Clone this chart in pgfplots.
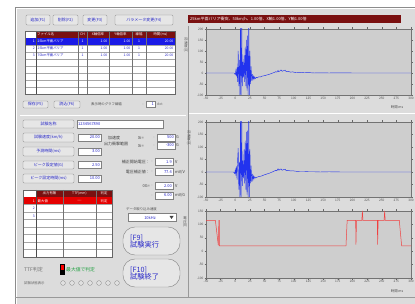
\documentclass[border=0pt]{standalone}
\usepackage{fontspec}
\setmainfont{Noto Sans CJK JP}
\usepackage{pgfplots}
\pgfplotsset{compat=1.18}
\definecolor{winbg}{HTML}{DCDCDC}
\definecolor{plotbg}{HTML}{CECECE}
\definecolor{darkred}{HTML}{7A1010}
\definecolor{selblue}{HTML}{1A1AE6}
\definecolor{txtblue}{HTML}{2828C8}
\definecolor{btnbg}{HTML}{E6E6E6}
\definecolor{btnedge}{HTML}{8C8C8C}
\definecolor{sigblue}{HTML}{2233EE}
\definecolor{sigred}{HTML}{F04040}
\definecolor{okgreen}{HTML}{20A040}
\newcommand{\ft}{\fontsize{4}{4.5}\selectfont}
\newcommand{\fs}{\fontsize{3.4}{3.8}\selectfont}
\newcommand{\btn}[5]{%
  \draw[btnedge, fill=btnbg, rounded corners=1.2pt, line width=0.35pt] (#1,#2) rectangle (#3,#4);
  \node[inner sep=0pt, font=\ft, text=txtblue] at ({(#1+#3)/2},{(#2+#4)/2}) {#5};}
\newcommand{\fld}[5]{%
  \draw[black!50, fill=white, line width=0.3pt] (#1,#2) rectangle (#3,#4);
  \node[anchor=east, inner sep=0pt, font=\ft, text=txtblue] at ({#3-1},{(#2+#4)/2}) {#5};}
\newcommand{\spin}[5]{%
  \fld{#1}{#2}{#3}{#4}{#5}%
  \node[inner sep=0pt, font=\fs, text=black!60] at ({#1-3},{(#2+#4)/2}) {:};}
\pgfplotsset{chart/.style={scale only axis, width=205pt, xmin=-50, xmax=300,
  xtick={-50,-25,...,300}, axis background/.style={fill=plotbg},
  axis line style={draw=black!55, line width=0.35pt},
  tick style={draw=black!60, line width=0.3pt}, tick align=outside, major tick length=1.5pt,
  ticklabel style={font=\fontsize{3.2}{3.5}\selectfont, text=black!70, inner sep=0.8pt},
  /pgf/number format/assume math mode=true, anchor=north west, clip=true}}
\begin{document}
\begin{tikzpicture}
\useasboundingbox (0pt,-304pt) rectangle (415pt,0pt);
\begin{scope}[x=1pt,y=-1pt]
\fill[white] (0,0) rectangle (415,304);
\fill[winbg] (15,7) rectangle (415,304);
\draw[black!45, line width=0.4pt] (15,304) -- (15,7) -- (415,7);
\draw[white, line width=0.4pt] (16,304) -- (16,8) -- (415,8);
% top buttons
\btn{26}{15}{50}{25}{追加(F1)}
\btn{53}{15}{78}{25}{削除(F2)}
\btn{83}{15}{107}{25}{変更(F3)}
\btn{115}{15}{173}{25}{パラメータ変更(F4)}
% table 1
\fill[white] (25,31) rectangle (175,94);
\fill[darkred] (36,31) rectangle (175,38);
\fill[selblue] (25,38) rectangle (175,45);
\foreach \yy in {52,59,66,73,80,87} \draw[black!35, line width=0.3pt] (25,\yy) -- (175,\yy);
\draw[black!35, line width=0.3pt] (25,45) -- (175,45);
\foreach \xx in {78,87,109,132,146} \draw[black!55, line width=0.3pt] (\xx,31) -- (\xx,94);
\draw[black!70, line width=0.5pt] (36,31) -- (36,94);
\draw[black!60, line width=0.4pt] (25,31) rectangle (175,94);
\begin{scope}[every node/.style={inner sep=0pt, font=\fs}]
\node[text=white, anchor=west] at (37,34.5) {ファイル名};
\node[text=white] at (82.5,34.5) {CH};
\node[text=white] at (98,34.5) {X軸倍率};
\node[text=white] at (120.5,34.5) {Y軸倍率};
\node[text=white] at (139,34.5) {線幅};
\node[text=white] at (160.5,34.5) {時間(ms)};
\end{scope}
\begin{scope}[every node/.style={inner sep=0pt, font=\fs}]
\foreach \r/\yy/\nm/\cc in {1/41.5/25km平面バリア/white, 2/48.5/25km平面バリア/txtblue, 3/55.5/70km平面バリア/txtblue}{
  \node[text=\cc, anchor=east] at (35,\yy) {\r};
  \node[text=\cc, anchor=west] at (37.5,\yy) {\nm};
  \node[text=\cc] at (82.5,\yy) {1};
  \node[text=\cc, anchor=east] at (107.5,\yy) {1.00};
  \node[text=\cc, anchor=east] at (130.5,\yy) {1.00};
  \node[text=\cc] at (139,\yy) {1};
  \node[text=\cc, anchor=east] at (173.5,\yy) {20.00};
}
\end{scope}
% buttons under table
\btn{23}{101}{48}{108}{保存(F5)}
\btn{54}{101}{80}{108}{読込(F6)}
\node[inner sep=0pt, font=\fs, text=black!70, anchor=west] at (91,104.5) {表示時のグラフ線幅};
\spin{146}{101.5}{155}{107.5}{1}
\node[inner sep=0pt, font=\fs, text=black!60, anchor=west] at (157,104.5) {dot};
% separator
\draw[black!40, line width=0.4pt] (20,115) -- (186,115);
\draw[white, line width=0.4pt] (20,115.6) -- (186,115.6);
% parameter buttons & fields
\btn{23}{120}{74}{128}{試験名称}
\draw[black!50, fill=white, line width=0.3pt] (77,120) rectangle (163,128);
\node[anchor=west, inner sep=0pt, font=\ft, text=txtblue] at (78,124) {1234567890};
\btn{23}{133}{74}{142}{試験速度(km/h)}
\fld{78}{134}{101}{141}{20.00}
\btn{23}{147}{74}{156}{予測時間(ms)}
\fld{78}{148}{101}{155}{3.00}
\btn{23}{161}{74}{169}{ピーク設定値(G)}
\fld{78}{161.5}{101}{168.5}{2.50}
\btn{23}{174}{74}{183}{ピーク設定時間(ms)}
\fld{78}{175}{101}{182}{10.00}
% middle labels
\begin{scope}[every node/.style={inner sep=0pt, font=\ft, text=black!75}]
\node[anchor=west] at (108,137.5) {加速度};
\node[anchor=west] at (104,144) {出力衝撃範囲};
\node[anchor=west] at (138,137.5) {Xi=};
\node[anchor=west] at (138,145.5) {Xi=};
\node[anchor=west] at (176,137.5) {G};
\node[anchor=west] at (176,145.5) {G};
\node[anchor=east] at (150,162) {補正開始電圧：};
\node[anchor=east] at (150,172) {電圧補正値：};
\node[anchor=east] at (150,186) {0G=};
\node[anchor=west] at (175,162) {V};
\node[anchor=west] at (175,172) {mV/V};
\node[anchor=west] at (175,186) {V};
\node[anchor=west] at (175,195.5) {mV/G};
\end{scope}
\spin{157}{134}{175}{141}{500}
\spin{157}{142}{175}{149}{-300}
\spin{155}{158.5}{173}{165.5}{1.9}
\spin{155}{168.5}{173}{175.5}{77.4}
\spin{155}{182.5}{173}{189.5}{2.00}
\spin{155}{192}{173}{199}{6.00}
% table 2
\fill[white] (23,190) rectangle (112,257);
\fill[darkred] (36,190) rectangle (112,197);
\fill[red!90!black] (23,197) rectangle (112,204.5);
\foreach \yy in {204.5,212,219.5,227,234.5,242,249.5} \draw[black!35, line width=0.3pt] (23,\yy) -- (112,\yy);
\foreach \xx in {63,96} \draw[black!55, line width=0.3pt] (\xx,190) -- (\xx,257);
\draw[black!70, line width=0.5pt] (36,190) -- (36,257);
\draw[black!60, line width=0.4pt] (23,190) rectangle (112,257);
\begin{scope}[every node/.style={inner sep=0pt, font=\fs}]
\node[text=white] at (49.5,193.5) {出力有無};
\node[text=white] at (79.5,193.5) {TTF(mm)};
\node[text=white] at (104,193.5) {判定};
\node[text=white, anchor=east] at (35,200.8) {1};
\node[text=white, anchor=west] at (37.5,200.8) {最大値};
\node[text=white] at (79.5,200.8) {----};
\node[text=white] at (104,200.8) {判定};
\node[text=txtblue, anchor=east] at (35,208.3) {2};
\node[text=txtblue, anchor=east] at (35,215.8) {3};
\end{scope}
% TTF
\node[inner sep=0pt, font=\fontsize{5}{5.5}\selectfont, text=black!55, anchor=west] at (24,270) {TTF判定};
\fill[black] (60,264.5) rectangle (65,275);
\fill[red] (60.6,265) rectangle (64.4,270);
\node[inner sep=0pt, font=\fontsize{4.8}{5.2}\selectfont, text=okgreen, anchor=west] at (66,270) {最大値で判定};
\node[inner sep=0pt, font=\fs, text=black!60, anchor=west] at (24,283) {試験状態表示};
\foreach \xx in {63,72,81,90,99,108,117} \draw[black!45, fill=black!12, line width=0.3pt] (\xx,283) circle (2.4);
% dropdown
\node[inner sep=0pt, font=\fs, text=black!70, anchor=west] at (126,209) {データ取り込み速度};
\draw[black!50, fill=white, line width=0.3pt] (128,213.5) rectangle (176,221.5);
\node[inner sep=0pt, font=\ft, text=txtblue] at (150,217.5) {10kHz};
\fill[black!75] (169.5,216) -- (173.5,216) -- (171.5,219) -- cycle;
% big buttons
\draw[btnedge, fill=btnbg, rounded corners=12pt, line width=0.45pt] (123,227) rectangle (180,255);
\node[inner sep=0pt, font=\fontsize{7.2}{8}\selectfont, text=txtblue, anchor=west, align=left] at (130,241) {[F9]\\[-1pt]試験実行};
\draw[btnedge, fill=btnbg, rounded corners=12pt, line width=0.45pt] (123,259) rectangle (180,287);
\node[inner sep=0pt, font=\fontsize{7.2}{8}\selectfont, text=txtblue, anchor=west, align=left] at (130,273) {[F10]\\[-1pt]試験終了};
% bottom line
\draw[black!40, line width=0.4pt] (15,297) -- (415,297);
% chart frames & title
\fill[darkred] (188,15) rectangle (401,23);
\node[inner sep=0pt, font=\ft, text=white, anchor=west] at (190,19) {25km平面バリア衝突、50km/h、1.00倍、X軸1.00倍、Y軸1.00倍};
\draw[black!40, line width=0.4pt] (188,113) -- (415,113);
\draw[white, line width=0.4pt] (188,113.6) -- (415,113.6);
\draw[black!40, line width=0.4pt] (188,26) -- (188,297);
% vertical y labels
\begin{scope}[every node/.style={inner sep=0pt, font=\fs, text=black!70, align=center}]
\node at (186,45) {加\\速\\度\\(G)};
\node at (189,138) {加\\速\\度\\(G)};
\node at (185,222) {電\\圧\\(V)};
\end{scope}
\node[inner sep=0pt, font=\fs, text=black!70] at (397,107) {時間 ms};
\node[inner sep=0pt, font=\fs, text=black!70] at (397,291) {時間 ms};
\end{scope}

% ---------- chart 1 ----------
\begin{axis}[chart, at={(206pt,-29pt)}, height=66pt, ymin=-100, ymax=200, ytick={-100,-50,...,200}]
\addplot[sigblue, line width=0.45pt] coordinates {
(-50,0) (-20,0) (-5,0) (-2,0) (0,-8) (1,12) (2,-15) (3,25) (4,-40) (5,100) (6,-60)
(7,60) (8,-130) (9,250) (10,-120) (11,230) (12,-60) (13,50) (14,-20) (15,80) (16,-40)
(17,120) (18,-60) (19,150) (20,-80) (21,170) (22,-120) (23,250) (24,-130) (25,100)
(26,-50) (27,30) (28,-35) (29,-5) (30,-30) (31,-15) (32,-28) (33,-18) (34,-25) (36,-20)
(38,-22) (40,-17) (43,-18) (46,-14) (50,-12) (54,-9) (58,-6) (62,-2) (66,2) (69,6)
(71,4) (73,12) (74,6) (76,9) (78,14) (80,8) (83,11) (85,13) (87,6) (90,8) (94,4) (98,5)
(103,2) (110,3) (118,1) (125,2) (135,0) (145,1) (160,0) (180,1) (200,0) (230,0) (260,0) (300,0)};
\end{axis}

% ---------- chart 2 ----------
\begin{axis}[chart, at={(206pt,-122pt)}, height=75pt, ymin=-100, ymax=200, ytick={-100,-50,...,200}]
\addplot[sigblue, line width=0.45pt] coordinates {
(-50,0) (-20,0) (-3,0) (-1,-6) (0,10) (1,-14) (2,22) (3,-30) (4,50) (5,95) (6,-70)
(7,40) (8,-125) (9,250) (10,-110) (11,220) (12,-55) (13,45) (14,-25) (15,90) (16,-45)
(17,125) (18,-70) (19,160) (20,-90) (21,165) (22,-125) (23,250) (24,-120) (25,90)
(26,-45) (27,25) (28,-38) (29,-8) (30,-32) (31,-16) (32,-27) (33,-19) (35,-24) (37,-21)
(40,-18) (43,-17) (46,-15) (50,-11) (54,-8) (58,-5) (62,-1) (66,3) (69,7) (71,5) (73,13)
(74.5,7) (76,10) (78,12) (80,7) (83,10) (85,11) (87,5) (90,7) (94,4) (98,5) (103,3)
(110,2) (118,2) (125,1) (135,1) (145,0) (160,1) (180,0) (200,0) (230,0) (260,0) (300,0)};
\end{axis}

% ---------- chart 3 ----------
\begin{axis}[chart, at={(206pt,-211pt)}, height=67pt, ymin=-100, ymax=150, ytick={-100,-50,...,150}]
\addplot[sigred, line width=0.5pt] coordinates {
(-50,115) (-34,115) (-29,22) (-28,115) (-27,115) (-27,20) (189,20) (191,115) (205.5,115)
(206,25) (207,115) (216,115) (217,150) (218,115) (242.5,115) (243,25) (244,115) (254,115)
(255,150) (256,115) (280,115) (284,20) (300,20)};
\end{axis}
\end{tikzpicture}
\end{document}
